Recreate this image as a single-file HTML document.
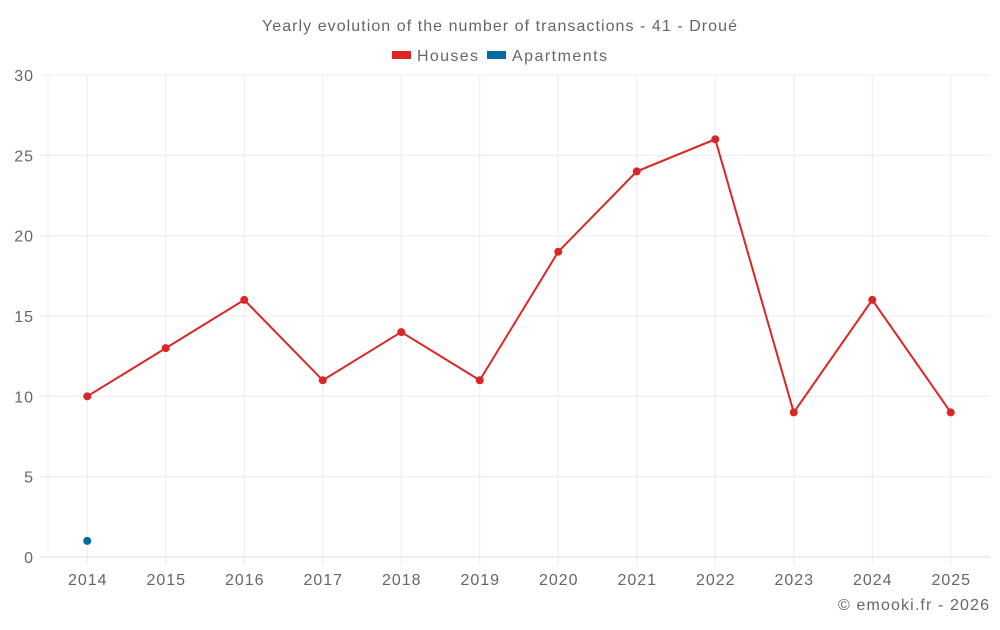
<!DOCTYPE html>
<html><head><meta charset="utf-8"><style>
body{margin:0;background:#fff;font-family:"Liberation Sans",sans-serif}
svg text{font-family:"Liberation Sans",sans-serif;fill:#666}
</style></head><body>
<svg id="c" width="1000" height="625">
<text x="262" y="31" font-size="16" textLength="475" lengthAdjust="spacing">Yearly evolution of the number of transactions - 41 - Droué</text>
<g>
<g><rect x="392" y="51" width="19" height="8" fill="#dc2626"/><text x="417" y="61" font-size="16" textLength="61" lengthAdjust="spacing">Houses</text></g>
<g><rect x="487" y="51" width="19" height="8" fill="#0369a1"/><text x="512" y="61" font-size="16" textLength="95" lengthAdjust="spacing">Apartments</text></g>
</g>
<g id="grid"></g>
<g id="axes"></g>
<g id="series"></g>
<text x="838" y="610" font-size="16" textLength="151" lengthAdjust="spacing">© emooki.fr - 2026</text>
</svg>
<script>
const years=["2014","2015","2016","2017","2018","2019","2020","2021","2022","2023","2024","2025"];
const houses=[10,13,16,11,14,11,19,24,26,9,16,9];
const apartments=[1,null,null,null,null,null,null,null,null,null,null,null];
const yTicks=[0,5,10,15,20,25,30];
const NS="http://www.w3.org/2000/svg";
const L=48,R=990,T=75,B=557,yMax=30;
const bw=(R-L)/years.length;
const x=i=>L+bw*(i+0.5);
const y=v=>B-(v/yMax)*(B-T);
function mk(t,a,p){const e=document.createElementNS(NS,t);for(const k in a)e.setAttribute(k,a[k]);p.appendChild(e);return e;}
const g=document.getElementById('grid'),ax=document.getElementById('axes'),s=document.getElementById('series');
yTicks.forEach(v=>{
const l=mk('line',{x1:40,x2:R,y1:y(v),y2:y(v),stroke:v===0?'#ddd':'#ececec','stroke-width':1},g);


const t=mk('text',{x:34,y:y(v)+6,'text-anchor':'end','font-size':16,'letter-spacing':1},ax);t.textContent=v;


});
const l0=mk('line',{x1:L,x2:L,y1:T,y2:B,stroke:'#ececec'},g);


years.forEach((yr,i)=>{
const l=mk('line',{x1:x(i),x2:x(i),y1:T,y2:B+8,stroke:'#ececec'},g);


const t=mk('text',{x:x(i)+0.5,y:585,'text-anchor':'middle','font-size':16,'letter-spacing':1},ax);t.textContent=yr;


});
function series(data,color,name){
let d='';data.forEach((v,i)=>{if(v==null)return;d+=(d?'L':'M')+x(i)+','+y(v);});
const p=mk('path',{d:d,fill:'none',stroke:color,'stroke-width':2},s);


data.forEach((v,i)=>{if(v==null)return;
const c=mk('circle',{cx:x(i),cy:y(v),r:4,fill:color},s);


});
}
series(houses,'#dc2626','houses');
series(apartments,'#0369a1','apartments');
</script>
</body></html>
